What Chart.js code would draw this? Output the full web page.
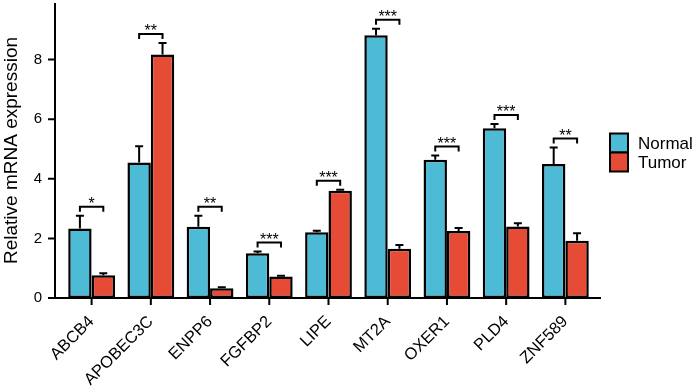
<!DOCTYPE html>
<html>
<head>
<meta charset="utf-8">
<script src="https://cdn.jsdelivr.net/npm/chart.js@4"></script>
<style>
  html, body { margin: 0; padding: 0; background: #fff; }
  #wrap { width: 692px; height: 387px; }
</style>
</head>
<body>
<div id="wrap"><canvas id="chart" width="692" height="387"></canvas></div>
<script>
const genes = ["ABCB4", "APOBEC3C", "ENPP6", "FGFBP2", "LIPE", "MT2A", "OXER1", "PLD4", "ZNF589"];
const normalMean = [2.33, 4.55, 2.39, 1.50, 2.21, 8.82, 4.64, 5.70, 4.50];
const normalErr  = [0.43, 0.54, 0.37, 0.06, 0.05, 0.22, 0.14, 0.14, 0.55];
const tumorMean  = [0.76, 8.17, 0.33, 0.72, 3.60, 1.65, 2.25, 2.40, 1.92];
const tumorErr   = [0.07, 0.39, 0.03, 0.03, 0.03, 0.13, 0.10, 0.11, 0.25];
const signif     = ["*", "**", "**", "***", "***", "***", "***", "***", "**"];
const yTicks     = [0, 2, 4, 6, 8];

const FONT = "'Liberation Sans', Arial, sans-serif";
const errs = [normalErr, tumorErr];

// axes, error bars, brackets and legend drawn by hand
const extras = {
  id: "extras",
  afterDatasetsDraw(chart) {
    const ctx = chart.ctx;
    const area = chart.chartArea;
    const y = chart.scales.y;
    const x = chart.scales.x;
    ctx.save();
    ctx.strokeStyle = "#000";
    ctx.lineWidth = 2;
    ctx.lineCap = "butt";

    // error bars
    const tops = [[], []];
    chart.data.datasets.forEach((ds, d) => {
      const meta = chart.getDatasetMeta(d);
      meta.data.forEach((bar, i) => {
        const top = y.getPixelForValue(ds.data[i] + errs[d][i]);
        tops[d][i] = top;
        ctx.beginPath();
        ctx.moveTo(bar.x, bar.y);
        ctx.lineTo(bar.x, top);
        ctx.moveTo(bar.x - 4, top);
        ctx.lineTo(bar.x + 4, top);
        ctx.stroke();
      });
    });

    // significance brackets
    const m0 = chart.getDatasetMeta(0), m1 = chart.getDatasetMeta(1);
    ctx.font = "16px " + FONT;
    ctx.fillStyle = "#000";
    ctx.textAlign = "center";
    ctx.textBaseline = "alphabetic";
    genes.forEach((g, i) => {
      const x0 = m0.data[i].x, x1 = m1.data[i].x;
      const by = Math.min(tops[0][i], tops[1][i]) - 9;
      ctx.beginPath();
      ctx.moveTo(x0, by + 5);
      ctx.lineTo(x0, by);
      ctx.lineTo(x1, by);
      ctx.lineTo(x1, by + 5);
      ctx.stroke();
      ctx.fillText(signif[i], (x0 + x1) / 2, by + 2);
    });

    // axis lines and tick marks
    const axX = area.left - 7;
    ctx.beginPath();
    ctx.moveTo(axX, area.top);
    ctx.lineTo(axX, area.bottom);
    ctx.moveTo(axX - 7, area.bottom);
    ctx.lineTo(area.right + 6, area.bottom);
    yTicks.forEach(v => {
      const py = y.getPixelForValue(v);
      ctx.moveTo(axX - 7, py);
      ctx.lineTo(axX, py);
    });
    genes.forEach((g, i) => {
      const px = x.getPixelForValue(i);
      ctx.moveTo(px, area.bottom);
      ctx.lineTo(px, area.bottom + 7);
    });
    ctx.stroke();

    // legend
    const lx = area.right + 15;
    const ly = (area.top + area.bottom) / 2 - 17;
    const bw = 18, bh = 19;
    chart.data.datasets.forEach((ds, d) => {
      const by = ly + d * bh;
      ctx.fillStyle = ds.backgroundColor;
      ctx.fillRect(lx, by, bw, bh);
      ctx.strokeRect(lx, by, bw, bh);
      ctx.fillStyle = "#000";
      ctx.font = "17px " + FONT;
      ctx.textAlign = "left";
      ctx.textBaseline = "middle";
      ctx.fillText(ds.label, lx + bw + 10, by + bh / 2 + 1);
    });
    ctx.restore();
  }
};

new Chart(document.getElementById("chart"), {
  type: "bar",
  data: {
    labels: genes,
    datasets: [
      { label: "Normal", data: normalMean, backgroundColor: "#4DBBD5", borderColor: "#000", borderWidth: 2.5, borderSkipped: false },
      { label: "Tumor", data: tumorMean, backgroundColor: "#E64B35", borderColor: "#000", borderWidth: 2.5, borderSkipped: false }
    ]
  },
  options: {
    responsive: false,
    animation: false,
    devicePixelRatio: 1,
    layout: { padding: { top: 3, right: 97, left: 0, bottom: 0 } },
    plugins: { legend: { display: false }, tooltip: { enabled: false } },
    datasets: { bar: { categoryPercentage: 0.79, barPercentage: 1 } },
    scales: {
      x: {
        grid: { display: false, drawTicks: false },
        border: { display: false },
        afterFit(s) { s.height = 89; },
        ticks: {
          color: "#000",
          font: { family: FONT, size: 16.5 },
          minRotation: 45,
          maxRotation: 45,
          padding: 14,
          autoSkip: false
        }
      },
      y: {
        min: 0,
        max: 9.9,
        grid: { display: false, drawTicks: false },
        border: { display: false },
        afterFit(s) { s.width = 62; s.paddingTop = 0; s.paddingBottom = 0; },
        afterBuildTicks(s) { s.ticks = yTicks.map(v => ({ value: v })); },
        ticks: { color: "#000", font: { family: FONT, size: 15 }, padding: 20 },
        title: {
          display: true,
          text: "Relative mRNA expression",
          color: "#000",
          font: { family: FONT, size: 19 },
          padding: 0
        }
      }
    }
  },
  plugins: [extras]
});
</script>
</body>
</html>
